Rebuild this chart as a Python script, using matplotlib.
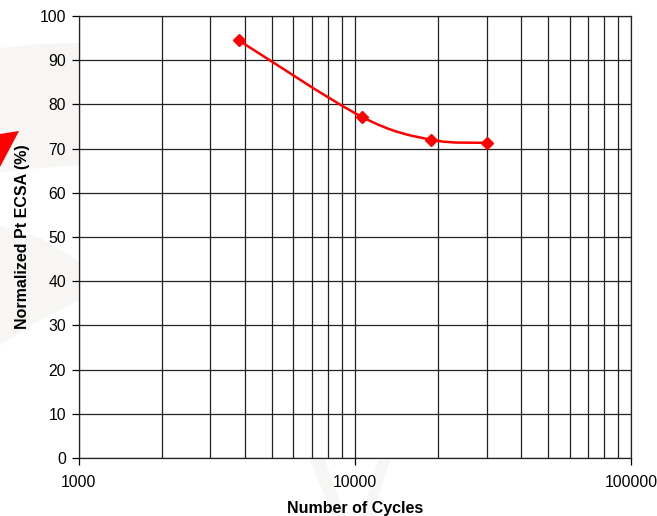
import numpy as np
import matplotlib
matplotlib.use('Agg')
import matplotlib.pyplot as plt
from matplotlib.path import Path
from matplotlib.patches import PathPatch, Polygon
from matplotlib.ticker import FixedLocator, NullFormatter
from matplotlib.transforms import Affine2D

plt.rcParams['font.family'] = ['Liberation Sans', 'DejaVu Sans']

# data
cycles = [3800, 10600, 18900, 30000]
ecsa = [94.5, 77.2, 72.0, 71.3]

yticks = [0, 10, 20, 30, 40, 50, 60, 70, 80, 90, 100]
xticks = [1000, 10000, 100000]
xticklabels = ['1000', '10000', '100000']

W, H = 657, 516
fig = plt.figure(figsize=(W / 100, H / 100), dpi=100)
fig.patch.set_facecolor('white')

# faint watermark shapes behind everything (figure pixel coords)
def px(pts):
    return [(x / W, 1 - y / H) for x, y in pts]

wm = '#f7f6f4'
shapes = [
    [(0, 48), (40, 44), (80, 43), (80, 165), (40, 168), (0, 172)],
    [(0, 226), (40, 238), (80, 262), (80, 300), (40, 320), (0, 345)],
    [(310, 460), (325, 460), (345, 516), (333, 516)],
    [(378, 460), (390, 460), (372, 516), (362, 516)],
]
for s in shapes:
    fig.patches.append(Polygon(px(s), closed=True, transform=fig.transFigure,
                               facecolor=wm, edgecolor='none', zorder=-5))
fig.patches.append(Polygon(px([(19, 131), (0, 134), (0, 167)]), closed=True,
                           transform=fig.transFigure, facecolor='#ff0000',
                           edgecolor='none', zorder=-5))

ax = fig.add_axes([78.5 / W, 1 - 458 / H, (631 - 78.5) / W, (458 - 16) / H])
ax.set_xscale('log')
ax.set_xlim(1000, 100000)
ax.set_ylim(0, 100)

ax.xaxis.set_major_locator(FixedLocator(xticks))
ax.set_xticklabels(xticklabels)
ax.xaxis.set_minor_locator(FixedLocator([m * 10 ** e for e in (3, 4) for m in range(2, 10)]))
ax.xaxis.set_minor_formatter(NullFormatter())
ax.set_yticks(yticks)

ax.grid(True, which='both', axis='x', color='#222222', linewidth=0.9)
ax.grid(True, which='major', axis='y', color='#222222', linewidth=0.9)
ax.set_axisbelow(True)

ax.tick_params(axis='both', which='major', direction='out', length=5, width=0.9,
               labelsize=11.3, colors='black', pad=4)
ax.tick_params(axis='x', which='minor', length=0)
ax.tick_params(axis='x', which='major', pad=7)
for s in ax.spines.values():
    s.set_color('#222222')
    s.set_linewidth(0.9)

# smoothed line (Excel-style), bezier control points built in log-x space
lx = np.log10(cycles)
yy = np.array(ecsa)
n = len(lx)
verts = [(lx[0], yy[0])]
codes = [Path.MOVETO]
t = 1 / 6
for i in range(n - 1):
    p0 = (lx[max(i - 1, 0)], yy[max(i - 1, 0)])
    p1 = (lx[i], yy[i])
    p2 = (lx[i + 1], yy[i + 1])
    p3 = (lx[min(i + 2, n - 1)], yy[min(i + 2, n - 1)])
    c1 = (p1[0] + (p2[0] - p0[0]) * t, p1[1] + (p2[1] - p0[1]) * t)
    c2 = (p2[0] - (p3[0] - p1[0]) * t, p2[1] - (p3[1] - p1[1]) * t)
    verts += [c1, c2, p2]
    codes += [Path.CURVE4] * 3

# map (log10 x, y) onto the axes box: x 3..5, y 0..100
trans = Affine2D().translate(-3, 0).scale(1.0 / 2, 1.0 / 100) + ax.transAxes
ax.add_patch(PathPatch(Path(verts, codes), facecolor='none', edgecolor='#ff0000',
                       linewidth=1.8, transform=trans, zorder=3))
ax.plot(cycles, ecsa, linestyle='none', marker='D', markersize=6.5, color='#ff0000',
        markeredgecolor='#ff0000', zorder=4)

ax.set_xlabel('Number of Cycles', fontsize=11.5, fontweight='bold', labelpad=8)
ax.set_ylabel('Normalized Pt ECSA (%)', fontsize=11.5, fontweight='bold', labelpad=7)

fig.savefig('out.png', dpi=100)
